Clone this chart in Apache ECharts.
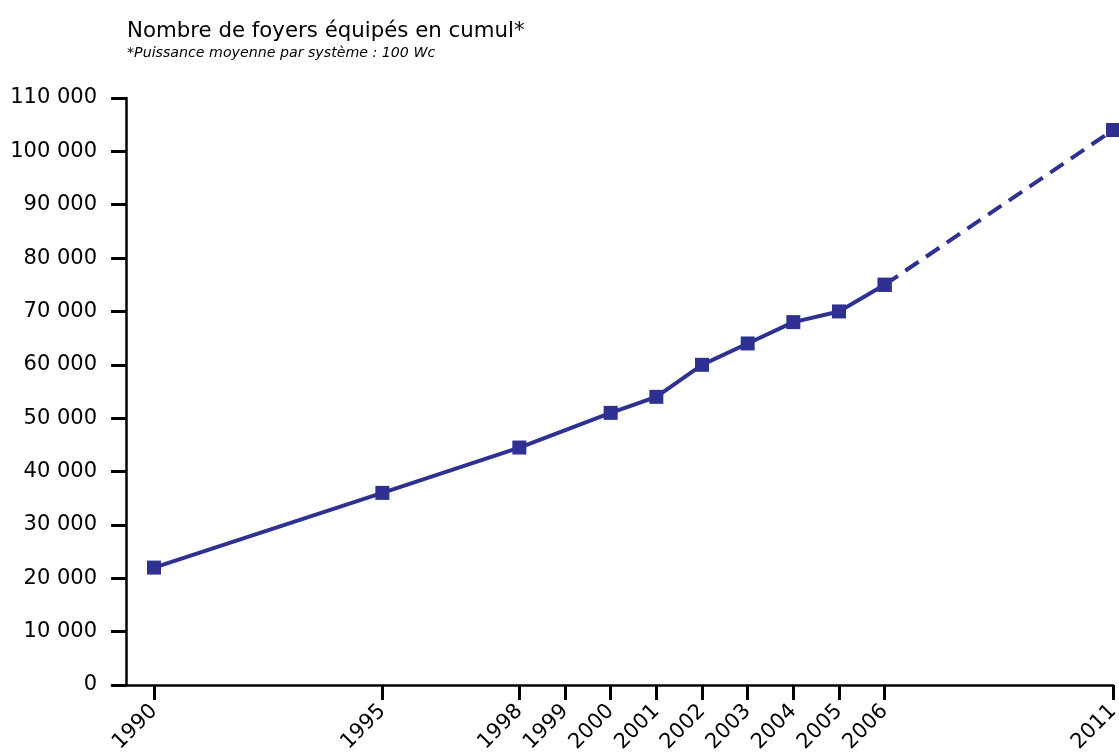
<!DOCTYPE html>
<html><head><meta charset="utf-8">
<script src="https://cdn.jsdelivr.net/npm/echarts@6/dist/echarts.min.js"></script>
<style>html,body{margin:0;padding:0;background:#fff}#c{width:1119px;height:754px}</style>
</head><body><div id="c"></div>
<script>
const years = [1990, 1995, 1998, 2000, 2001, 2002, 2003, 2004, 2005, 2006, 2011];
const foyers = [22000, 36000, 44500, 51000, 54000, 60000, 64000, 68000, 70000, 75000, 104000];
const tickYears = [1990, 1995, 1998, 1999, 2000, 2001, 2002, 2003, 2004, 2005, 2006, 2011];
const solidEnd = 9; // index of 2006
const title = 'Nombre de foyers équipés en cumul*';
const subtitle = '*Puissance moyenne par système : 100 Wc';

const pts = years.map((y, i) => [y, foyers[i]]);
const solid = pts.slice(0, solidEnd + 1);
const dashed = pts.slice(solidEnd);
const col = '#2e3192';
const font = '"DejaVu Sans", sans-serif';

const chart = echarts.init(document.getElementById('c'));
chart.setOption({
  animation: false,
  title: {
    text: title, subtext: subtitle, left: 122, top: 16, itemGap: 4,
    textStyle: {fontFamily: font, fontSize: 21.3, fontWeight: 'normal', color: '#000'},
    subtextStyle: {fontFamily: font, fontSize: 14.2, fontStyle: 'italic', color: '#000'}
  },
  grid: {left: 112, right: 6, top: 98, bottom: 69, containLabel: false, outerBoundsMode: 'none'},
  xAxis: {
    type: 'value', min: 1989.08, max: 2011,
    axisLine: {lineStyle: {color: '#000', width: 2.5}},
    axisTick: {show: true, customValues: tickYears, length: 15, lineStyle: {color: '#000', width: 3}},
    axisLabel: {customValues: tickYears, rotate: 45, margin: 23, fontFamily: font, fontSize: 21, color: '#000',
      formatter: v => String(v)},
    splitLine: {show: false}
  },
  yAxis: {
    type: 'value', min: 0, max: 110000, interval: 10000, offset: -14,
    axisLine: {show: true, lineStyle: {color: '#000', width: 2.5}},
    axisTick: {show: true, length: 15, lineStyle: {color: '#000', width: 3}},
    axisLabel: {margin: 29, fontFamily: font, fontSize: 21, color: '#000',
      formatter: v => String(v).replace(/\B(?=(\d{3})+(?!\d))/g, ' ')},
    splitLine: {show: false}
  },
  series: [
    {type: 'line', data: solid, symbol: 'rect', symbolSize: 14,
     lineStyle: {color: col, width: 4}, itemStyle: {color: col}},
    {type: 'line', data: dashed, symbol: 'rect', symbolSize: 14,
     lineStyle: {color: col, width: 4, type: [16, 9]}, itemStyle: {color: col}}
  ]
});
</script></body></html>
